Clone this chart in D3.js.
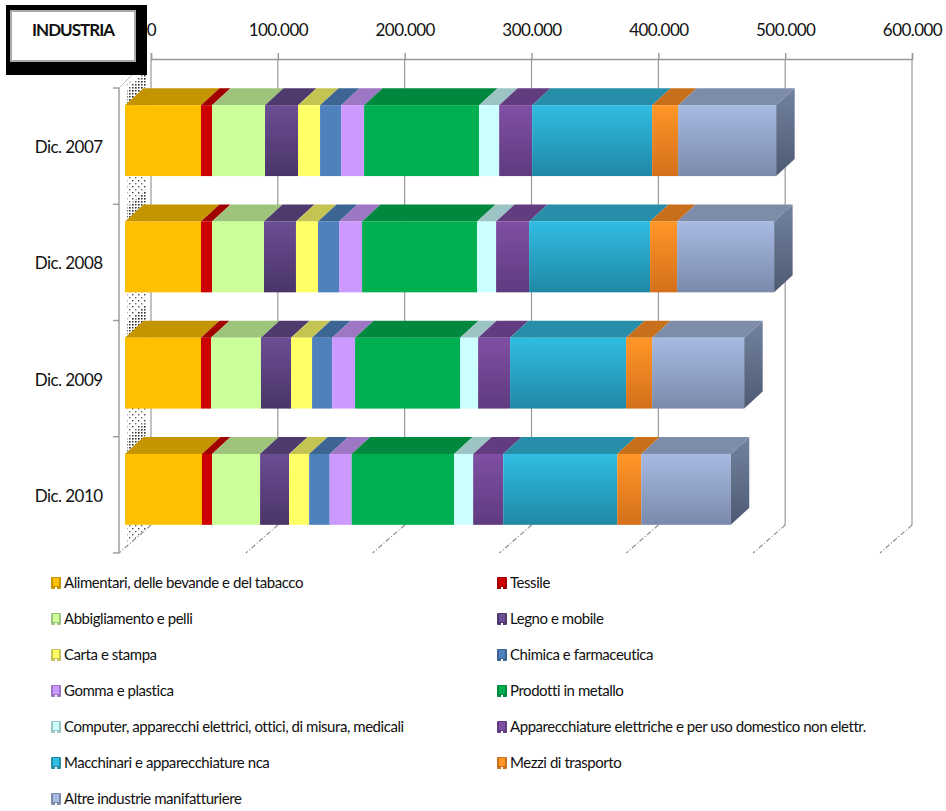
<!DOCTYPE html>
<html>
<head>
<meta charset="utf-8">
<script src="https://cdn.jsdelivr.net/npm/d3@7"></script>
<style>
  html, body { margin: 0; background: #fff; }
  text { font-family: Lato, "Open Sans", sans-serif; fill: #111; }
  .tick text { font-size: 17px; letter-spacing: -0.55px; }
  .legend text { font-size: 15px; letter-spacing: -0.45px; }
</style>
</head>
<body>
<svg id="chart" width="946" height="811"></svg>
<script>
// values
const categories = ["Dic. 2007", "Dic. 2008", "Dic. 2009", "Dic. 2010"];
const sectors = [
    "Alimentari, delle bevande e del tabacco", "Tessile",
    "Abbigliamento e pelli", "Legno e mobile",
    "Carta e stampa", "Chimica e farmaceutica",
    "Gomma e plastica", "Prodotti in metallo",
    "Computer, apparecchi elettrici, ottici, di misura,  medicali", "Apparecchiature elettriche e per uso domestico non elettr.",
    "Macchinari e apparecchiature nca", "Mezzi di trasporto",
    "Altre industrie manifatturiere"
];
const alimentari = [59900, 59900, 59900, 60700];
const tessile = [8700, 8700, 7900, 7900];
const abbigliamento = [41800, 41000, 39400, 37900];
const legno = [26000, 25200, 23700, 22900];
const carta = [17400, 17400, 16600, 15800];
const chimica = [16600, 16600, 15800, 16200];
const gomma = [18100, 18100, 18100, 17300];
const metallo = [90700, 90700, 82800, 80800];
const computer = [15800, 15000, 14200, 15000];
const elettriche = [26000, 26000, 25200, 23700];
const macchinari = [94600, 95400, 91500, 89900];
const trasporto = [20500, 21300, 20500, 18900];
const altre = [77300, 76500, 72600, 70600];
const seriesValues = [alimentari, tessile, abbigliamento, legno, carta, chimica, gomma,
    metallo, computer, elettriche, macchinari, trasporto, altre];
const xTicks = [0, 100000, 200000, 300000, 400000, 500000, 600000];

// front colour top, front colour bottom, top face colour
const colorTop = ["#FFC000", "#CC0000", "#CCFF99", "#6B4E93", "#FFFF66", "#4F81BD", "#CC99FF",
    "#00B050", "#CCFFFF", "#7F4FA3", "#31BCE2", "#FF9627", "#A7BAE2"];
const colorBottom = ["#FFC000", "#CC0000", "#CCFF99", "#4A3468", "#FFFF66", "#4F81BD", "#CC99FF",
    "#00B050", "#CCFFFF", "#5F3B80", "#2088A6", "#D4701C", "#7A8AAC"];
const colorRoof = ["#C49500", "#A00000", "#9DC47A", "#4E3A6C", "#C4C453", "#3D6594", "#9D76C4",
    "#00883E", "#9DC4C4", "#613D80", "#268EA9", "#C86F1C", "#7D8CA8"];

const svg = d3.select("#chart");
const defs = svg.append("defs");

const nf = d3.formatLocale({ decimal: ",", thousands: ".", grouping: [3], currency: ["", ""] }).format(",");

// back wall scale, the front of the floor sits wallDx left and wallDy below it
const wallDx = 32, wallDy = 28;
const barOffX = 6, barOffY = 5.5;   // bar front face, measured from the floor front
const barDx = 18.5, barDy = 17;     // bar depth
const wallTop = 59, wallBottom = 525;

const xBack = d3.scaleLinear().domain([0, 600000]).range([151, 912]);
const xFront = v => xBack(v) - wallDx + barOffX;
const y = d3.scaleBand().domain(categories).range([wallTop + wallDy + 1, wallBottom + wallDy])
    .paddingInner(0.39).paddingOuter(0.195);

// stipple on the left wall, a thin one and a thick one
const sparse = defs.append("pattern").attr("id", "sparse")
    .attr("width", 6).attr("height", 6).attr("patternUnits", "userSpaceOnUse");
sparse.append("rect").attr("width", 1.4).attr("height", 1.4).attr("fill", "#444");
sparse.append("rect").attr("x", 3).attr("y", 3).attr("width", 1.4).attr("height", 1.4).attr("fill", "#666");
const dense = defs.append("pattern").attr("id", "dense")
    .attr("width", 3).attr("height", 3).attr("patternUnits", "userSpaceOnUse");
dense.append("rect").attr("width", 1.5).attr("height", 1.5).attr("fill", "#333");

seriesValues.forEach((s, i) => {
    const g = defs.append("linearGradient").attr("id", "grad" + i)
        .attr("x1", 0).attr("y1", 0).attr("x2", 0).attr("y2", 1);
    g.append("stop").attr("offset", "0%").attr("stop-color", colorTop[i]);
    g.append("stop").attr("offset", "100%").attr("stop-color", colorBottom[i]);
});
const sideGrad = defs.append("linearGradient").attr("id", "side")
    .attr("x1", 0).attr("y1", 0).attr("x2", 0).attr("y2", 1);
sideGrad.append("stop").attr("offset", "0%").attr("stop-color", "#72829F");
sideGrad.append("stop").attr("offset", "100%").attr("stop-color", "#4E5A72");

// walls
const wall = svg.append("g");
wall.append("path")
    .attr("d", d3.line()([[127, wallTop + 24], [146, wallTop + 14], [146, wallBottom + 4], [127, wallBottom + 20]]) + "Z")
    .attr("fill", "url(#sparse)");
categories.forEach(cat => {
    const yf = y(cat) - barOffY;
    wall.append("path")
        .attr("d", d3.line()([[127, yf], [146, yf - 19], [146, yf - 32], [127, yf - 14]]) + "Z")
        .attr("fill", "url(#dense)");
});

// x axis along the top of the back wall
const axis = svg.append("g").attr("transform", `translate(0,${wallTop})`)
    .call(d3.axisTop(xBack).tickValues(xTicks).tickFormat(nf).tickSize(6).tickPadding(17));
axis.select(".domain").attr("stroke", "#999").attr("stroke-width", 1.4);
axis.selectAll("line").attr("stroke", "#999").attr("stroke-width", 1.4);

// grid lines and floor diagonals
wall.selectAll(".grid").data(xTicks).join("line")
    .attr("x1", d => xBack(d)).attr("x2", d => xBack(d))
    .attr("y1", wallTop).attr("y2", wallBottom)
    .attr("stroke", "#999").attr("stroke-width", 1.2);
wall.selectAll(".floor").data(xTicks).join("line")
    .attr("x1", d => xBack(d)).attr("x2", d => xBack(d) - wallDx)
    .attr("y1", wallBottom).attr("y2", wallBottom + wallDy)
    .attr("stroke", "#888").attr("stroke-width", 1.1).attr("stroke-dasharray", "5 2 1 2");

// left axis with its ticks
const yAxis = svg.append("g").attr("transform", `translate(119,0)`);
yAxis.append("line").attr("y1", wallTop + wallDy + 1).attr("y2", wallBottom + wallDy)
    .attr("stroke", "#999").attr("stroke-width", 1.4);
const step = y.step();
yAxis.selectAll(".ymark").data(d3.range(categories.length + 1)).join("line")
    .attr("x1", -6).attr("x2", 0)
    .attr("y1", i => wallTop + wallDy + 1 + i * step).attr("y2", i => wallTop + wallDy + 1 + i * step)
    .attr("stroke", "#999").attr("stroke-width", 1.4);
yAxis.append("line").attr("x1", 0).attr("y1", wallTop + wallDy + 1).attr("x2", 14).attr("y2", wallTop + 15)
    .attr("stroke", "#bbb").attr("stroke-width", 1);

svg.append("g").attr("class", "tick").selectAll("text").data(categories).join("text")
    .attr("x", 102.5).attr("y", d => y(d) + y.bandwidth() / 2 + 1)
    .attr("dy", "0.35em").attr("text-anchor", "end").text(d => d);

// stacked bars
const stacked = d3.stack().keys(d3.range(sectors.length)).value((row, k) => seriesValues[k][row])(d3.range(categories.length));
const bars = svg.append("g");
categories.forEach((cat, c) => {
    const yf = y(cat) - barOffY, h = y.bandwidth();
    const row = bars.append("g");
    stacked.forEach((layer, i) => {
        const x0 = xFront(layer[c][0]), x1 = xFront(layer[c][1]);
        row.append("path")
            .attr("d", d3.line()([[x0, yf], [x0 + barDx, yf - barDy], [x1 + barDx, yf - barDy], [x1, yf]]) + "Z")
            .attr("fill", colorRoof[i]);
        row.append("rect").attr("x", x0).attr("y", yf).attr("width", x1 - x0).attr("height", h)
            .attr("fill", `url(#grad${i})`);
    });
    const end = xFront(stacked[stacked.length - 1][c][1]);
    row.append("path")
        .attr("d", d3.line()([[end, yf], [end + barDx, yf - barDy], [end + barDx, yf + h - barDy], [end, yf + h]]) + "Z")
        .attr("fill", "url(#side)");
});

// legend, two columns
const legend = svg.append("g").attr("class", "legend");
const legendCol = i => (i % 2 ? 496 : 50);
const legendRow = i => 583 + Math.floor(i / 2) * 36;
const item = legend.selectAll("g").data(sectors).join("g")
    .attr("transform", (d, i) => `translate(${legendCol(i)},${legendRow(i)})`);
item.append("rect").attr("x", 1).attr("y", -6).attr("width", 10).attr("height", 12).attr("rx", 1)
    .attr("fill", (d, i) => colorRoof[i]);
item.append("rect").attr("x", 3).attr("y", -5).attr("width", 6).attr("height", 8)
    .attr("fill", (d, i) => colorTop[i]);
item.append("rect").attr("x", 5).attr("y", 4).attr("width", 2).attr("height", 2).attr("fill", "#fff");
item.append("text").attr("x", 14).attr("dy", "0.35em").text(d => d);

// title box goes on top, it hides part of the 0 label
const box = svg.append("g");
box.append("rect").attr("x", 6).attr("y", 5).attr("width", 141).attr("height", 70).attr("fill", "#000");
box.append("rect").attr("x", 11).attr("y", 11).attr("width", 124).attr("height", 50)
    .attr("fill", "#fff").attr("stroke", "#aaa").attr("stroke-width", 2);
box.append("text").attr("x", 73).attr("y", 30).attr("dy", "0.35em").attr("text-anchor", "middle")
    .attr("font-size", 17).attr("font-weight", 700).attr("letter-spacing", "-1px").text("INDUSTRIA");
</script>
</body>
</html>
